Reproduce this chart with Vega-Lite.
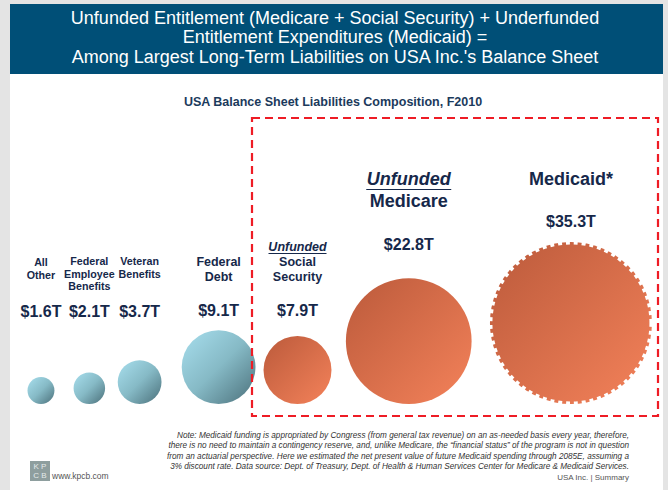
{
  "$schema": "https://vega.github.io/schema/vega-lite/v6.json",
  "width": 668,
  "height": 490,
  "autosize": {"type": "none"},
  "padding": 0,
  "background": "#e4e4e4",
  "config": {"view": {"stroke": null}, "font": "Liberation Sans"},
  "data": {
    "values": [
      {"item": "All Other", "label": "All\nOther", "prefix": "", "value": 1.6, "amount": "$1.6T", "rank": 1, "kind": "funded"},
      {"item": "Federal Employee Benefits", "label": "Federal\nEmployee\nBenefits", "prefix": "", "value": 2.1, "amount": "$2.1T", "rank": 2, "kind": "funded"},
      {"item": "Veteran Benefits", "label": "Veteran\nBenefits", "prefix": "", "value": 3.7, "amount": "$3.7T", "rank": 3, "kind": "funded"},
      {"item": "Federal Debt", "label": "Federal\nDebt", "prefix": "", "value": 9.1, "amount": "$9.1T", "rank": 4, "kind": "funded"},
      {"item": "Social Security", "label": "Social\nSecurity", "prefix": "Unfunded", "value": 7.9, "amount": "$7.9T", "rank": 5, "kind": "unfunded"},
      {"item": "Medicare", "label": "Medicare", "prefix": "Unfunded", "value": 22.8, "amount": "$22.8T", "rank": 6, "kind": "unfunded"},
      {"item": "Medicaid", "label": "Medicaid*", "prefix": "", "value": 35.3, "amount": "$35.3T", "rank": 7, "kind": "underfunded"}
    ]
  },
  "layer": [
    {
      "data": {"values": [{}]},
      "mark": {"type": "rect", "x": 10, "x2": 663, "y": 4, "y2": 490, "fill": "#ffffff"}
    },
    {
      "data": {"values": [{}]},
      "mark": {"type": "rect", "x": 10, "x2": 663, "y": 4, "y2": 74, "fill": "#004f77"}
    },
    {
      "data": {"values": [{}]},
      "mark": {"type": "text", "x": 335, "y": 18.5, "align": "center", "baseline": "middle", "fontSize": 18, "lineHeight": 19.5, "fill": "#ffffff",
        "text": ["Unfunded Entitlement (Medicare + Social Security) + Underfunded", "Entitlement Expenditures (Medicaid) =", "Among Largest Long-Term Liabilities on USA Inc.'s Balance Sheet"]}
    },
    {
      "data": {"values": [{}]},
      "mark": {"type": "text", "x": 333, "y": 102, "align": "center", "baseline": "middle", "fontSize": 12.5, "fontWeight": "bold", "fill": "#1b3a5c",
        "text": "USA Balance Sheet Liabilities Composition, F2010"}
    },
    {
      "data": {"values": [{}]},
      "mark": {"type": "rule", "x": 33, "x2": 662, "y": 404, "stroke": "#14294a", "strokeWidth": 1.5},
      "encoding": {}
    },
    {
      "mark": {"type": "circle", "opacity": 1, "strokeWidth": 5, "strokeDash": [4, 4]},
      "encoding": {
        "x": {"field": "value", "type": "quantitative", "stack": "zero", "bandPosition": 0.5,
          "scale": {"type": "pow", "exponent": 0.55, "domain": [0, 82.5], "range": [-10.9, 653.3], "nice": false}, "axis": null},
        "order": {"field": "rank", "type": "quantitative"},
        "y": {"field": "value", "type": "quantitative",
          "scale": {"type": "pow", "exponent": 0.58, "domain": [0, 35.3], "range": [404, 323], "nice": false}, "axis": null},
        "size": {"field": "value", "type": "quantitative",
          "scale": {"type": "pow", "exponent": 1.16, "domain": [0, 35.3], "range": [0, 26244]}, "legend": null},
        "fill": {
          "condition": {"test": "datum.kind != 'funded'", "value": {"gradient": "linear", "x1": 0, "y1": 0, "x2": 1, "y2": 1, "stops": [{"offset": 0, "color": "#bb5a3b"}, {"offset": 1, "color": "#f4825a"}]}},
          "value": {"gradient": "linear", "x1": 0, "y1": 0, "x2": 1, "y2": 1, "stops": [{"offset": 0, "color": "#a8dfee"}, {"offset": 0.5, "color": "#86bac6"}, {"offset": 1, "color": "#4a6f79"}]}
        },
        "stroke": {"condition": {"test": "datum.kind == 'underfunded'", "value": "#ffffff"}, "value": "transparent"}
      }
    },
    {
      "mark": {"type": "text", "align": "center", "baseline": "middle", "fontWeight": "bold", "lineBreak": "\n", "fill": "#16284a"},
      "encoding": {
        "x": {"field": "value", "type": "quantitative", "stack": "zero", "bandPosition": 0.5,
          "scale": {"type": "pow", "exponent": 0.55, "domain": [0, 82.5], "range": [-10.9, 653.3], "nice": false}, "axis": null},
        "order": {"field": "rank", "type": "quantitative"},
        "y": {"field": "value", "type": "quantitative",
          "scale": {"type": "linear", "domain": [0, 2.1, 9.1, 22.8, 35.3], "range": [266, 262, 262, 202, 180]}, "axis": null},
        "size": {"field": "value", "type": "quantitative",
          "scale": {"type": "threshold", "domain": [5, 20], "range": [10.7, 12.5, 18]}, "legend": null},
        "text": {"field": "label", "type": "nominal"}
      }
    },
    {
      "mark": {"type": "text", "align": "center", "baseline": "middle", "fontWeight": "bold", "fontStyle": "italic", "fill": "#16284a"},
      "encoding": {
        "x": {"field": "value", "type": "quantitative", "stack": "zero", "bandPosition": 0.5,
          "scale": {"type": "pow", "exponent": 0.55, "domain": [0, 82.5], "range": [-10.9, 653.3], "nice": false}, "axis": null},
        "order": {"field": "rank", "type": "quantitative"},
        "y": {"field": "value", "type": "quantitative",
          "scale": {"type": "linear", "domain": [7.9, 22.8], "range": [247, 180]}, "axis": null},
        "size": {"field": "value", "type": "quantitative",
          "scale": {"type": "threshold", "domain": [5, 20], "range": [10.7, 12.5, 18]}, "legend": null},
        "text": {"field": "prefix", "type": "nominal"}
      }
    },
    {
      "mark": {"type": "point", "shape": "M-1,0L1,0", "filled": false, "strokeWidth": 1.2, "color": "#16284a"},
      "encoding": {
        "x": {"field": "value", "type": "quantitative", "stack": "zero", "bandPosition": 0.5,
          "scale": {"type": "pow", "exponent": 0.55, "domain": [0, 82.5], "range": [-10.9, 653.3], "nice": false}, "axis": null},
        "order": {"field": "rank", "type": "quantitative"},
        "y": {"field": "value", "type": "quantitative",
          "scale": {"type": "linear", "domain": [7.9, 22.8], "range": [253.5, 189.5]}, "axis": null},
        "size": {"field": "value", "type": "quantitative",
          "scale": {"type": "threshold", "domain": [20], "range": [3364, 7225]}, "legend": null},
        "opacity": {"condition": {"test": "datum.prefix != ''", "value": 1}, "value": 0}
      }
    },
    {
      "mark": {"type": "text", "align": "center", "baseline": "middle", "fontWeight": "bold", "fontSize": 16, "fill": "#16284a"},
      "encoding": {
        "x": {"field": "value", "type": "quantitative", "stack": "zero", "bandPosition": 0.5,
          "scale": {"type": "pow", "exponent": 0.55, "domain": [0, 82.5], "range": [-10.9, 653.3], "nice": false}, "axis": null},
        "order": {"field": "rank", "type": "quantitative"},
        "y": {"field": "value", "type": "quantitative",
          "scale": {"type": "linear", "domain": [0, 9.1, 22.8, 35.3], "range": [312, 311, 245, 222]}, "axis": null},
        "text": {"field": "amount", "type": "nominal"}
      }
    },
    {
      "data": {"values": [{}]},
      "mark": {"type": "rect", "x": 252, "x2": 658, "y": 118, "y2": 416, "fill": "transparent", "stroke": "#ee1c25", "strokeWidth": 2.2, "strokeDash": [8, 5]}
    },
    {
      "data": {"values": [{}]},
      "mark": {"type": "text", "x": 629, "y": 436, "align": "right", "baseline": "middle", "fontSize": 8.2, "fontStyle": "italic", "lineHeight": 10.3, "fill": "#333333",
        "text": ["Note: Medicaid funding is appropriated by Congress (from general tax revenue) on an as-needed basis every year, therefore,", "there is no need to maintain a contingency reserve, and, unlike Medicare, the \u201cfinancial status\u201d of the program is not in question", "from an actuarial perspective. Here we estimated the net present value of future Medicaid spending through 2085E, assuming a", "3% discount rate. Data source: Dept. of Treasury, Dept. of Health & Human Services Center for Medicare & Medicaid Services."]}
    },
    {
      "data": {"values": [{}]},
      "mark": {"type": "text", "x": 629, "y": 478, "align": "right", "baseline": "middle", "fontSize": 8, "fill": "#555555", "text": "USA Inc. | Summary"}
    },
    {
      "data": {"values": [{}]},
      "mark": {"type": "rect", "x": 30, "x2": 50, "y": 461, "y2": 481, "fill": "#8e9e9e"}
    },
    {
      "data": {"values": [{}]},
      "mark": {"type": "text", "x": 40, "y": 466.5, "align": "center", "baseline": "middle", "fontSize": 8, "lineHeight": 9.5, "fill": "#e4eaea", "text": ["K P", "C B"]}
    },
    {
      "data": {"values": [{}]},
      "mark": {"type": "text", "x": 52, "y": 476, "align": "left", "baseline": "middle", "fontSize": 8.5, "fill": "#555555", "text": "www.kpcb.com"}
    }
  ],
  "resolve": {"scale": {"y": "independent", "size": "independent"}}
}
